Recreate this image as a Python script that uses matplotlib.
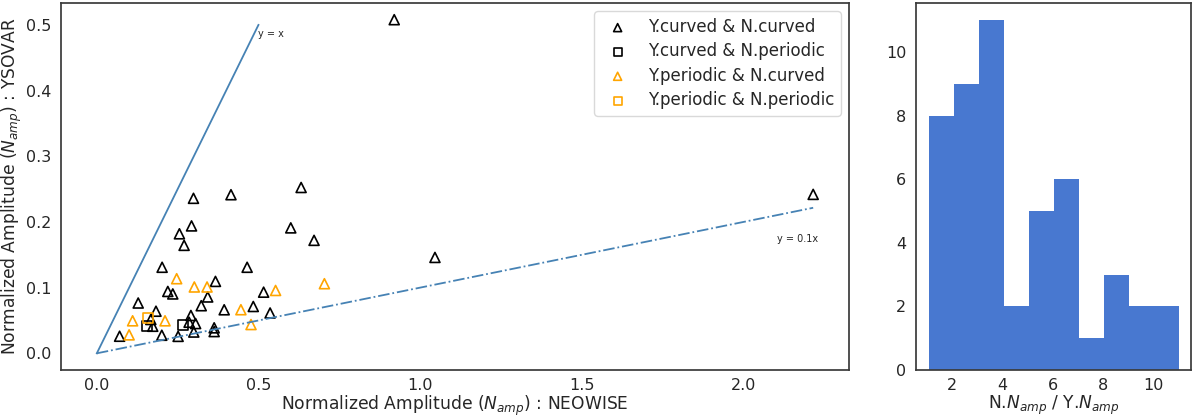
import numpy as np
import matplotlib
matplotlib.use("Agg")
import matplotlib.pyplot as plt

# ---- data ----
cc_x = [0.920, 2.216, 0.299, 0.415, 0.632, 0.293, 0.2555, 0.270, 0.600, 0.672,
        1.046, 0.202, 0.465, 0.367, 0.2196, 0.235, 0.343, 0.516, 0.128, 0.323,
        0.394, 0.484, 0.183, 0.536, 0.291, 0.363, 0.363, 0.0705, 0.201, 0.2515,
        0.300, 0.2855, 0.3056, 0.167, 0.173]
cc_y = [0.508, 0.242, 0.236, 0.2415, 0.2525, 0.194, 0.182, 0.1644, 0.191, 0.172,
        0.146, 0.131, 0.131, 0.1095, 0.0942, 0.0904, 0.0858, 0.0931, 0.0766, 0.0725,
        0.0663, 0.0713, 0.0641, 0.0614, 0.0576, 0.0388, 0.0331, 0.026, 0.0275, 0.0258,
        0.0324, 0.0473, 0.0453, 0.0515, 0.0412]

cp_x = [0.1556, 0.266]
cp_y = [0.0412, 0.0435]

pc_x = [0.247, 0.3016, 0.341, 0.553, 0.704, 0.4457, 0.477, 0.1107, 0.211, 0.0999]
pc_y = [0.1136, 0.101, 0.101, 0.0957, 0.106, 0.0664, 0.0438, 0.0495, 0.0495, 0.0281]

pp_x = [0.157]
pp_y = [0.0537]

legend_labels = ["Y.curved & N.curved", "Y.curved & N.periodic",
                 "Y.periodic & N.curved", "Y.periodic & N.periodic"]

hist_edges = list(np.linspace(1.05, 11.0, 11))
hist_counts = [8, 9, 11, 2, 5, 6, 1, 3, 2, 2]

# ---- style ----
plt.rcParams['font.family'] = ['DejaVu Sans']
plt.rcParams['axes.edgecolor'] = '#3a3a3a'
plt.rcParams['axes.linewidth'] = 1.25
plt.rcParams['text.color'] = '#262626'
plt.rcParams['axes.labelcolor'] = '#262626'
plt.rcParams['xtick.color'] = '#262626'
plt.rcParams['ytick.color'] = '#262626'

fig = plt.figure(figsize=(11.96, 4.17), dpi=100)
ax = fig.add_axes([61/1196, 47/417, 788/1196, 367/417])
ax2 = fig.add_axes([916/1196, 47/417, 275/1196, 367/417])

all_x = cc_x + cp_x + pc_x + pp_x
xmax = max(all_x)

ax.plot([0, 0.5], [0, 0.5], color='steelblue', lw=1.3)
ax.plot([0, xmax], [0, 0.1 * xmax], color='steelblue', lw=1.3, ls='-.')
ax.text(0.5, 0.486, "y = x", fontsize=7, va='center', ha='left')
ax.text(2.103, 0.1747, "y = 0.1x", fontsize=7, va='center', ha='left')

ms = 52
ax.scatter(cc_x, cc_y, marker='^', s=ms, facecolors='none', edgecolors='black', linewidths=1.2, label=legend_labels[0])
ax.scatter(cp_x, cp_y, marker='s', s=ms, facecolors='none', edgecolors='black', linewidths=1.2, label=legend_labels[1])
ax.scatter(pc_x, pc_y, marker='^', s=ms, facecolors='none', edgecolors='orange', linewidths=1.2, label=legend_labels[2])
ax.scatter(pp_x, pp_y, marker='s', s=ms, facecolors='none', edgecolors='orange', linewidths=1.2, label=legend_labels[3])

ax.set_xticks([0.0, 0.5, 1.0, 1.5, 2.0])
ax.set_yticks([0.0, 0.1, 0.2, 0.3, 0.4, 0.5])
ax.tick_params(axis='x', length=0, labelsize=11.5, pad=6)
ax.tick_params(axis='y', length=0, labelsize=11.5, pad=7)
ax.set_xlabel(r"Normalized Amplitude ($N_{amp}$) : NEOWISE", fontsize=12.3, labelpad=0)
ax.set_ylabel(r"Normalized Amplitude ($N_{amp}$) : YSOVAR", fontsize=12.3, labelpad=1)
ax.legend(loc='upper right', fontsize=12, markerscale=0.8, frameon=True,
          edgecolor='#d0d0d0', borderaxespad=0.5, labelspacing=0.38)

centers = [(hist_edges[i] + hist_edges[i + 1]) / 2 for i in range(len(hist_counts))]
ax2.hist(centers, bins=hist_edges, weights=hist_counts, color='#4878D0', linewidth=0)
ax2.set_xticks([2, 4, 6, 8, 10])
ax2.set_yticks([0, 2, 4, 6, 8, 10])
ax2.tick_params(axis='x', length=0, labelsize=11.5, pad=6)
ax2.tick_params(axis='y', length=0, labelsize=11.5, pad=7)
ax2.set_xlabel(r"N.$N_{amp}$ / Y.$N_{amp}$", fontsize=12.3, labelpad=0)

fig.savefig("out.png", dpi=100)
